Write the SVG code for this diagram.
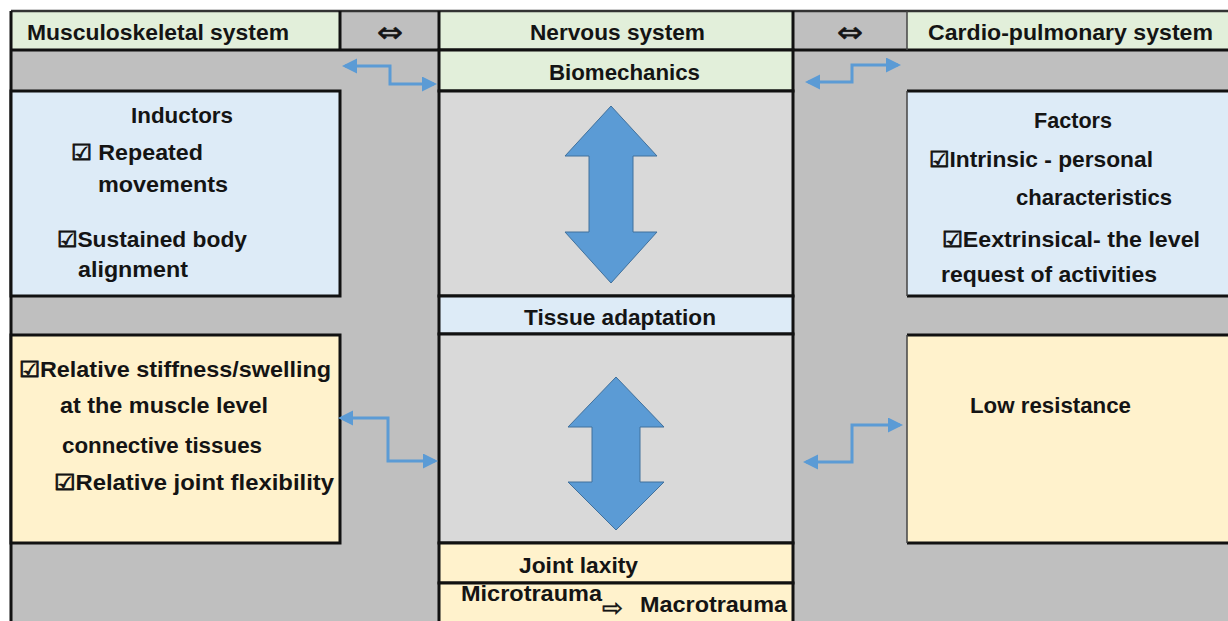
<svg xmlns="http://www.w3.org/2000/svg" width="1228" height="621" viewBox="0 0 1228 621">
<style>
.t{font-family:"Liberation Sans","DejaVu Sans",sans-serif;font-weight:bold;font-size:22px;fill:#141414}
.sym{font-family:"DejaVu Sans",sans-serif;font-weight:normal;font-size:22px;fill:#141414}
.cb{font-family:"DejaVu Sans",sans-serif;stroke:#141414;stroke-width:0.9}
.g{fill:#E2EFDA}.gr{fill:#BFBFBF}.lg{fill:#D9D9D9}.b{fill:#DDEBF7}.y{fill:#FFF2CC}
.k{stroke:#111;stroke-width:3;fill:none}
.thin{stroke:#444;stroke-width:1.5;fill:none}
.con{stroke:#5B9BD5;stroke-width:3;fill:none;marker-start:url(#ah);marker-end:url(#ah)}
.big{fill:#5B9BD5;stroke:#41719C;stroke-width:1}
</style>
<defs>
<marker id="ah" markerUnits="userSpaceOnUse" markerWidth="16" markerHeight="16" refX="12" refY="7.5" orient="auto-start-reverse" viewBox="0 0 16 16">
<path d="M0,0 L15,7.5 L0,15 z" fill="#5B9BD5"/>
</marker>
</defs>
<rect x="0" y="0" width="1228" height="621" fill="#FFFFFF"/>
<rect class="gr" x="11" y="50" width="1217" height="571"/>

<g id="header">
<rect class="g" x="11" y="11" width="329" height="39"/>
<rect class="gr" x="340" y="11" width="99" height="39"/>
<rect class="g" x="439" y="11" width="354" height="39"/>
<rect class="gr" x="793" y="11" width="114" height="39"/>
<rect class="g" x="907" y="11" width="321" height="39"/>
<line class="k" x1="11" y1="11" x2="1228" y2="11" style="stroke:#333;stroke-width:2.5"/>
<line class="k" x1="11" y1="50" x2="1228" y2="50"/>
<line class="k" x1="340" y1="11" x2="340" y2="50"/>
<line class="k" x1="439" y1="11" x2="439" y2="50"/>
<line class="k" x1="793" y1="11" x2="793" y2="50"/>
<line class="thin" x1="907" y1="11" x2="907" y2="50"/>
<text class="t" x="27" y="40" textLength="262" lengthAdjust="spacingAndGlyphs">Musculoskeletal system</text>
<text class="sym" x="377" y="42" style="font-size:28px;stroke:#141414;stroke-width:0.6" textLength="26" lengthAdjust="spacingAndGlyphs">⇔</text>
<text class="t" x="530" y="40" textLength="175" lengthAdjust="spacingAndGlyphs">Nervous system</text>
<text class="sym" x="837" y="42" style="font-size:28px;stroke:#141414;stroke-width:0.6" textLength="26" lengthAdjust="spacingAndGlyphs">⇔</text>
<text class="t" x="928" y="40" textLength="285" lengthAdjust="spacingAndGlyphs">Cardio-pulmonary  system</text>
</g>

<line class="k" x1="11" y1="11" x2="11" y2="621"/>

<g id="inductors">
<rect class="b" x="11" y="91" width="329" height="205"/>
<rect class="k" x="11" y="91" width="329" height="205"/>
<text class="t" x="131" y="123" textLength="102" lengthAdjust="spacingAndGlyphs">Inductors</text>
<text class="t" x="71" y="160" textLength="132" lengthAdjust="spacingAndGlyphs"><tspan class="cb">☑</tspan> Repeated</text>
<text class="t" x="98" y="192" textLength="130" lengthAdjust="spacingAndGlyphs">movements</text>
<text class="t" x="57" y="247" textLength="190" lengthAdjust="spacingAndGlyphs"><tspan class="cb">☑</tspan>Sustained body</text>
<text class="t" x="78" y="277" textLength="110" lengthAdjust="spacingAndGlyphs">alignment</text>
</g>

<g id="stiffness">
<rect class="y" x="11" y="335" width="329" height="208"/>
<rect class="k" x="11" y="335" width="329" height="208"/>
<text class="t" x="19" y="377" textLength="312" lengthAdjust="spacingAndGlyphs"><tspan class="cb">☑</tspan>Relative stiffness/swelling</text>
<text class="t" x="60" y="413" textLength="208" lengthAdjust="spacingAndGlyphs">at the muscle level</text>
<text class="t" x="62" y="453" textLength="200" lengthAdjust="spacingAndGlyphs">connective tissues</text>
<text class="t" x="54" y="490" textLength="280" lengthAdjust="spacingAndGlyphs"><tspan class="cb">☑</tspan>Relative joint flexibility</text>
</g>

<g id="biomechanics">
<rect class="g" x="439" y="50" width="354" height="41"/>
<rect class="k" x="439" y="50" width="354" height="41"/>
<text class="t" x="549" y="80" textLength="151" lengthAdjust="spacingAndGlyphs">Biomechanics</text>
</g>

<g id="upper-arrow-box">
<rect class="lg" x="439" y="91" width="354" height="205"/>
<rect class="k" x="439" y="91" width="354" height="205"/>
<polygon class="big" points="611,106 657,156 633,156 633,232 657,232 611,283 565,232 589,232 589,156 565,156"/>
</g>

<g id="tissue">
<rect class="b" x="439" y="296" width="354" height="38"/>
<rect class="k" x="439" y="296" width="354" height="38"/>
<text class="t" x="524" y="325" textLength="192" lengthAdjust="spacingAndGlyphs">Tissue adaptation</text>
</g>

<g id="lower-arrow-box">
<rect class="lg" x="439" y="334" width="354" height="209"/>
<rect class="k" x="439" y="334" width="354" height="209"/>
<polygon class="big" points="616,377 664,427 640,427 640,482 664,482 616,530 568,482 592,482 592,427 568,427"/>
</g>

<g id="laxity">
<rect class="y" x="439" y="543" width="354" height="40"/>
<rect class="k" x="439" y="543" width="354" height="40"/>
<text class="t" x="519" y="573" textLength="119" lengthAdjust="spacingAndGlyphs">Joint laxity</text>
</g>

<g id="trauma">
<rect class="y" x="439" y="583" width="354" height="40"/>
<rect class="k" x="439" y="583" width="354" height="40"/>
<text class="t" x="461" y="601" textLength="141" lengthAdjust="spacingAndGlyphs">Microtrauma</text>
<text class="sym" x="602" y="616" style="font-size:24px;stroke:#141414;stroke-width:0.5" textLength="21" lengthAdjust="spacingAndGlyphs">⇨</text>
<text class="t" x="640" y="612" textLength="147" lengthAdjust="spacingAndGlyphs">Macrotrauma</text>
</g>

<g id="factors">
<rect class="b" x="907" y="91" width="321" height="205"/>
<line class="k" x1="907" y1="91" x2="1228" y2="91"/>
<line class="k" x1="907" y1="296" x2="1228" y2="296"/>
<line class="thin" x1="907" y1="91" x2="907" y2="296"/>
<text class="t" x="1034" y="128" textLength="78" lengthAdjust="spacingAndGlyphs">Factors</text>
<text class="t" x="929" y="167" textLength="224" lengthAdjust="spacingAndGlyphs"><tspan class="cb">☑</tspan>Intrinsic - personal</text>
<text class="t" x="1016" y="205" textLength="156" lengthAdjust="spacingAndGlyphs">characteristics</text>
<text class="t" x="942" y="247" textLength="258" lengthAdjust="spacingAndGlyphs"><tspan class="cb">☑</tspan>Eextrinsical- the level</text>
<text class="t" x="941" y="282" textLength="216" lengthAdjust="spacingAndGlyphs">request of activities</text>
</g>

<g id="low-resistance">
<rect class="y" x="907" y="335" width="321" height="208"/>
<line class="k" x1="907" y1="335" x2="1228" y2="335"/>
<line class="k" x1="907" y1="543" x2="1228" y2="543"/>
<line class="thin" x1="907" y1="335" x2="907" y2="543"/>
<text class="t" x="970" y="413" textLength="161" lengthAdjust="spacingAndGlyphs">Low resistance</text>
</g>

<g id="connectors">
<path class="con" d="M345,66 H390 V84 H434"/>
<path class="con" d="M808,82 H852 V65 H898"/>
<path class="con" d="M341,418 H388 V461 H435"/>
<path class="con" d="M806,462 H852 V425 H900"/>
</g>
</svg>
